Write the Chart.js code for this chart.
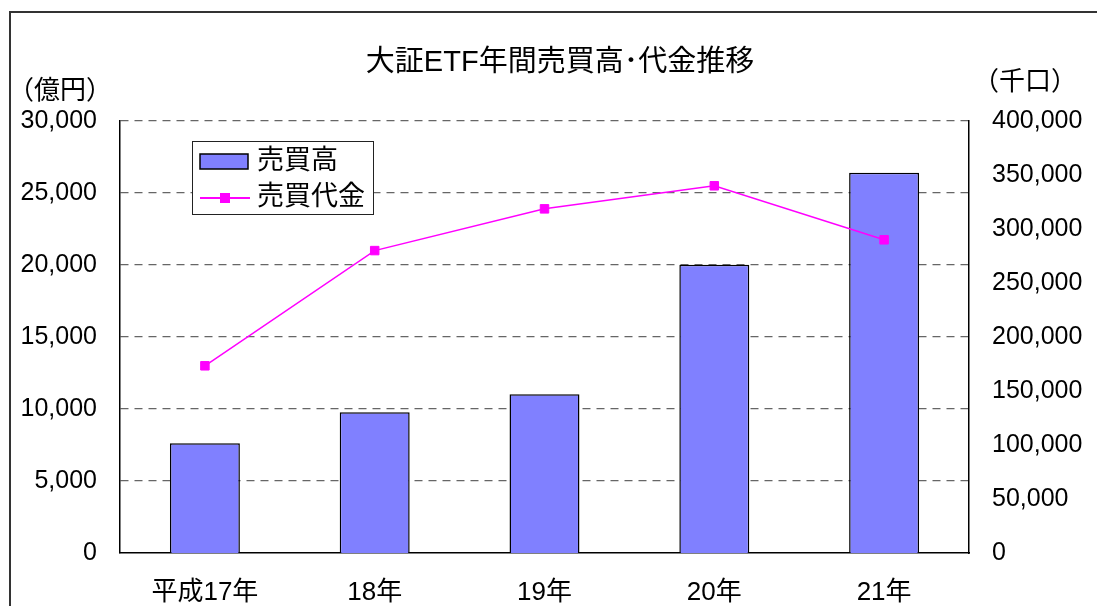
<!DOCTYPE html>
<html lang="ja">
<head>
<meta charset="UTF-8">
<title>大証ETF年間売買高･代金推移</title>
<script src="https://cdn.jsdelivr.net/npm/chart.js"></script>
<style>
  html, body { margin: 0; padding: 0; background: #fff; overflow: hidden; }
  #wrap { position: relative; width: 1097px; height: 606px; }
</style>
</head>
<body>
<div id="wrap"><canvas id="etfChart" width="1097" height="606"></canvas></div>
<script>
// データ
const years = ['平成17年', '18年', '19年', '20年', '21年'];
const volume = [101600, 130300, 146900, 267000, 352000];  // 売買高（千口）
const amount = [13000, 21000, 23900, 25500, 21750];       // 売買代金（億円）
const leftMax = 30000, leftStep = 5000;
const rightMax = 400000, rightStep = 50000;

const FONT = "'Liberation Sans', 'Noto Sans CJK JP', sans-serif";
const fmt = v => Number(v).toLocaleString('en-US');

// 枠線・タイトル・単位
const decorations = {
    id: 'decorations',
    beforeDraw(chart) {
        const ctx = chart.ctx;
        ctx.save();
        ctx.strokeStyle = '#333';
        ctx.lineWidth = 2;
        ctx.beginPath();
        ctx.moveTo(10, 606);
        ctx.lineTo(10, 12);
        ctx.lineTo(1097, 12);
        ctx.stroke();
        ctx.restore();
    },
    afterDraw(chart) {
        const ctx = chart.ctx;
        ctx.save();
        ctx.fillStyle = '#000';
        ctx.textAlign = 'center';
        ctx.textBaseline = 'middle';
        ctx.font = '29px ' + FONT;
        ctx.fillText('大証ETF年間売買高･代金推移', 560, 63);
        ctx.font = '26px ' + FONT;
        ctx.fillText('（億円）', 60, 92);
        ctx.fillText('（千口）', 1025, 83);
        ctx.restore();
    }
};

// 凡例
const legendBox = {
    id: 'legendBox',
    afterDraw(chart) {
        const ctx = chart.ctx;
        const bar = chart.data.datasets[0];
        const line = chart.data.datasets[1];
        ctx.save();
        ctx.fillStyle = '#fff';
        ctx.fillRect(192, 141, 181, 73);
        ctx.strokeStyle = '#222';
        ctx.lineWidth = 1;
        ctx.strokeRect(192.5, 141.5, 181, 73);

        ctx.fillStyle = bar.backgroundColor;
        ctx.fillRect(200, 154, 48, 15);
        ctx.strokeStyle = bar.borderColor;
        ctx.lineWidth = 1.5;
        ctx.strokeRect(200, 154, 48, 15);

        ctx.strokeStyle = line.borderColor;
        ctx.lineWidth = 2;
        ctx.beginPath();
        ctx.moveTo(200, 198);
        ctx.lineTo(250, 198);
        ctx.stroke();
        ctx.fillStyle = line.pointBackgroundColor;
        ctx.fillRect(220, 193, 10, 10);

        ctx.fillStyle = '#000';
        ctx.font = '27px ' + FONT;
        ctx.textAlign = 'left';
        ctx.textBaseline = 'middle';
        ctx.fillText(bar.label, 257, 162);
        ctx.fillText(line.label, 257, 198);
        ctx.restore();
    }
};

new Chart(document.getElementById('etfChart'), {
    type: 'bar',
    data: {
        labels: years,
        datasets: [{
            type: 'bar',
            label: '売買高',
            data: volume,
            yAxisID: 'y1',
            backgroundColor: '#8080FF',
            borderColor: '#000',
            borderWidth: 1.5,
            barPercentage: 0.412,
            categoryPercentage: 1.0,
            order: 2
        }, {
            type: 'line',
            label: '売買代金',
            data: amount,
            yAxisID: 'y',
            borderColor: '#FF00FF',
            backgroundColor: '#FF00FF',
            pointBackgroundColor: '#FF00FF',
            pointBorderColor: '#FF00FF',
            borderWidth: 1.5,
            pointStyle: 'rect',
            pointRadius: 6,
            pointBorderWidth: 1,
            tension: 0,
            fill: false,
            order: 1
        }]
    },
    options: {
        responsive: false,
        animation: false,
        devicePixelRatio: 1,
        layout: { padding: { top: 121, left: 0, right: 0, bottom: 0 } },
        plugins: {
            legend: { display: false },
            title: { display: false },
            tooltip: { enabled: false }
        },
        scales: {
            x: {
                grid: { display: false, drawTicks: false },
                border: { display: true, color: '#000', width: 1.5 },
                ticks: { color: '#000', font: { size: 26, family: FONT }, padding: 24 },
                afterFit(scale) { scale.height = 53; }
            },
            y: {
                position: 'left',
                min: 0,
                max: leftMax,
                grid: {
                    drawTicks: false,
                    color: c => (c.tick && c.tick.value === 0) ? 'rgba(0,0,0,0)' : '#666',
                    lineWidth: 1.2
                },
                border: { display: true, color: '#000', width: 1.5, dash: [8, 6] },
                ticks: {
                    stepSize: leftStep,
                    color: '#000',
                    font: { size: 25, family: FONT },
                    padding: 23,
                    callback: v => fmt(v)
                },
                afterFit(scale) { scale.width = 120; }
            },
            y1: {
                position: 'right',
                min: 0,
                max: rightMax,
                grid: { display: false, drawOnChartArea: false, drawTicks: false },
                border: { display: true, color: '#000', width: 1.5 },
                ticks: {
                    stepSize: rightStep,
                    color: '#000',
                    font: { size: 25, family: FONT },
                    padding: 23,
                    callback: v => fmt(v)
                },
                afterFit(scale) { scale.width = 128; }
            }
        }
    },
    plugins: [decorations, legendBox]
});
</script>
</body>
</html>
